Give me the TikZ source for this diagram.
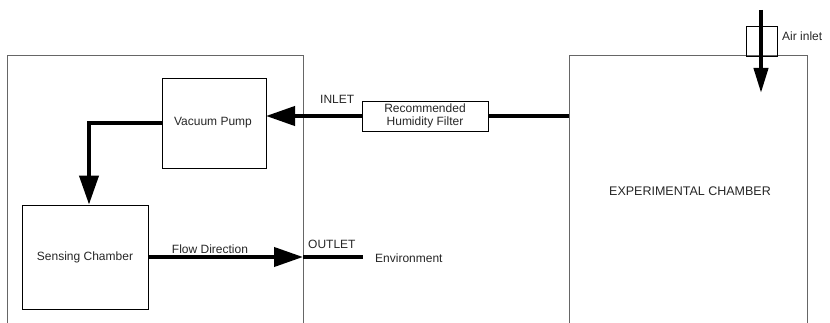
\documentclass[tikz,border=0pt]{standalone}
\usepackage{fontspec}
\setmainfont{Liberation Sans}
\usetikzlibrary{arrows.meta}
\begin{document}
\begin{tikzpicture}[x=1pt,y=-1pt,
  lbl/.style={font=\fontsize{12}{14}\selectfont, text=black!85, inner sep=0pt},
  outer/.style={draw=black!60, line width=1pt},
  unit/.style={draw=black, line width=0.8pt, inner sep=0pt, text=black!85, align=center},
  flow/.style={line width=4pt, -{Triangle[length=29pt,width=19pt]}},
  flowplain/.style={line width=4pt},
  airflow/.style={line width=4pt, -{Triangle[length=25pt,width=14pt]}}]
\useasboundingbox (0,0) rectangle (830,323);
% outer enclosures (open at bottom)
\draw[outer] (7,323) -- (7,56) -- (303,56) -- (303,323);
\draw[outer] (569,323) -- (569,56) -- (807,56) -- (807,323);
% units
\node[unit, minimum width=104pt, minimum height=90pt] (pump) at (214,123) {};
\node[lbl] at (213,123) {Vacuum Pump};
\node[unit, minimum width=126pt, minimum height=104pt] (sense) at (85,257) {};
\node[lbl] at (85,257) {Sensing Chamber};
\node[unit, minimum width=126pt, minimum height=30pt] (filter) at (425,116) {};
\node[lbl, align=center, font=\fontsize{12}{12.5}\selectfont] at (425,116) {Recommended\\Humidity Filter};
\node[unit, minimum width=31pt, minimum height=30pt] (airbox) at (761.5,41) {};
% coordinates
\coordinate (chamberin) at (569,116);
\coordinate (pumpin) at (266,116);
\coordinate (bend) at (89,123);
\coordinate (outlet) at (303,257);
\coordinate (env) at (363,257);
\coordinate (airtop) at (761,10);
\coordinate (airtip) at (761,93);
% connectors
\draw[flowplain] (chamberin) -- (filter.east |- chamberin);
\draw[flow] (filter.west |- chamberin) -- (pumpin);
\draw[flow] (pump.west |- bend) -- (bend) -- (sense.north -| bend);
\draw[flow] (sense.east) -- (outlet);
\draw[flowplain] (outlet) -- (env);
\draw[airflow] (airtop) -- (airtip);
% labels
\node[lbl, anchor=west] at (320,99) {INLET};
\node[lbl] at (210,249) {Flow Direction};
\node[lbl, anchor=west] at (308,244) {OUTLET};
\node[lbl, anchor=west] at (375,258) {Environment};
\node[lbl, anchor=west] at (782,36) {Air inlet};
\node[lbl, font=\fontsize{12.5}{14}\selectfont] at (690,191) {EXPERIMENTAL CHAMBER};
\end{tikzpicture}
\end{document}
